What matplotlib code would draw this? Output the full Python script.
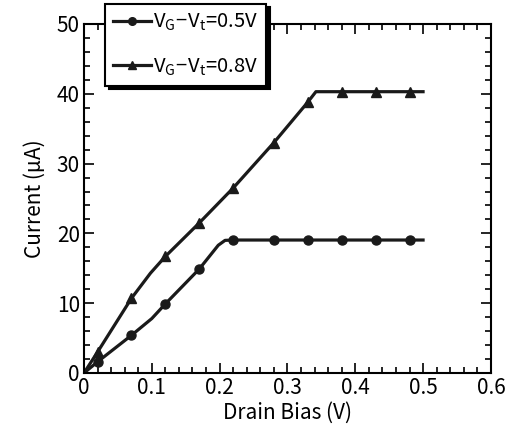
import matplotlib
matplotlib.use('Agg')
import matplotlib.pyplot as plt
import matplotlib.ticker as ticker

plt.rcParams['font.family'] = ['Noto Sans CJK JP', 'DejaVu Sans']
plt.rcParams['mathtext.fontset'] = 'custom'
plt.rcParams['mathtext.rm'] = 'Noto Sans CJK JP'

# V_G - V_t = 0.5 V
x_05 = [0, 0.02, 0.07, 0.10, 0.12, 0.17, 0.198, 0.208, 0.22, 0.28, 0.33, 0.38, 0.43, 0.48, 0.50]
y_05 = [0, 1.6, 5.4, 7.8, 9.9, 14.9, 18.3, 19.0, 19.05, 19.05, 19.05, 19.05, 19.05, 19.05, 19.05]
mk_x_05 = [0.02, 0.07, 0.12, 0.17, 0.22, 0.28, 0.33, 0.38, 0.43, 0.48]
mk_y_05 = [1.6, 5.4, 9.9, 14.9, 19.05, 19.05, 19.05, 19.05, 19.05, 19.05]

# V_G - V_t = 0.8 V
x_08 = [0, 0.02, 0.07, 0.098, 0.12, 0.17, 0.22, 0.28, 0.33, 0.342, 0.38, 0.43, 0.48, 0.50]
y_08 = [0, 3.0, 10.7, 14.3, 16.7, 21.5, 26.5, 33.0, 38.8, 40.3, 40.3, 40.3, 40.3, 40.3]
mk_x_08 = [0.02, 0.07, 0.12, 0.17, 0.22, 0.28, 0.33, 0.38, 0.43, 0.48]
mk_y_08 = [3.0, 10.7, 16.7, 21.5, 26.5, 33.0, 38.8, 40.3, 40.3, 40.3]

labels = [r'$\mathregular{V_G\!-\!V_t}$=0.5V', r'$\mathregular{V_G\!-\!V_t}$=0.8V']

fig = plt.figure(figsize=(5.2, 4.36), dpi=100)
ax = fig.add_axes([0.1615, 0.1445, 0.7825, 0.8005])

ax.plot(x_05, y_05, color='#1a1a1a', lw=2.3)
ax.plot(mk_x_05, mk_y_05, ls='none', marker='o', ms=6.5, color='#1a1a1a')
ax.plot(x_08, y_08, color='#1a1a1a', lw=2.3)
ax.plot(mk_x_08, mk_y_08, ls='none', marker='^', ms=6.5, color='#1a1a1a')

# legend proxies (line + marker)
h1, = ax.plot([], [], color='#1a1a1a', lw=2.3, marker='o', ms=5.5)
h2, = ax.plot([], [], color='#1a1a1a', lw=2.3, marker='^', ms=5.5)
leg = ax.legend([h1, h2], labels, loc='upper left', bbox_to_anchor=(0.052, 1.058),
                borderaxespad=0, fontsize=14.5, handlelength=1.9, handletextpad=0.1,
                labelspacing=1.15, borderpad=0.4, fancybox=False, framealpha=1,
                edgecolor='black',
                shadow={'ox': 2.5, 'oy': -2.5, 'color': 'black', 'alpha': 1})
leg.get_frame().set_linewidth(1.5)

ax.set_xlim(0, 0.6)
ax.set_ylim(0, 50)
ax.xaxis.set_major_locator(ticker.MultipleLocator(0.1))
ax.xaxis.set_minor_locator(ticker.MultipleLocator(0.02))
ax.yaxis.set_major_locator(ticker.MultipleLocator(10))
ax.yaxis.set_minor_locator(ticker.MultipleLocator(2))
ax.xaxis.set_major_formatter(ticker.FuncFormatter(lambda v, p: '0' if v == 0 else f'{v:.1f}'))
ax.tick_params(which='both', direction='in', top=True, right=True, labelsize=15, width=1.2)
ax.tick_params(which='major', length=7, pad=3)
ax.tick_params(which='minor', length=4)
for s in ax.spines.values():
    s.set_linewidth(1.5)

ax.set_xlabel('Drain Bias (V)', fontsize=15, labelpad=2)
ax.set_ylabel('Current (μA)', fontsize=15, labelpad=8)

fig.savefig('out.png', dpi=100)
